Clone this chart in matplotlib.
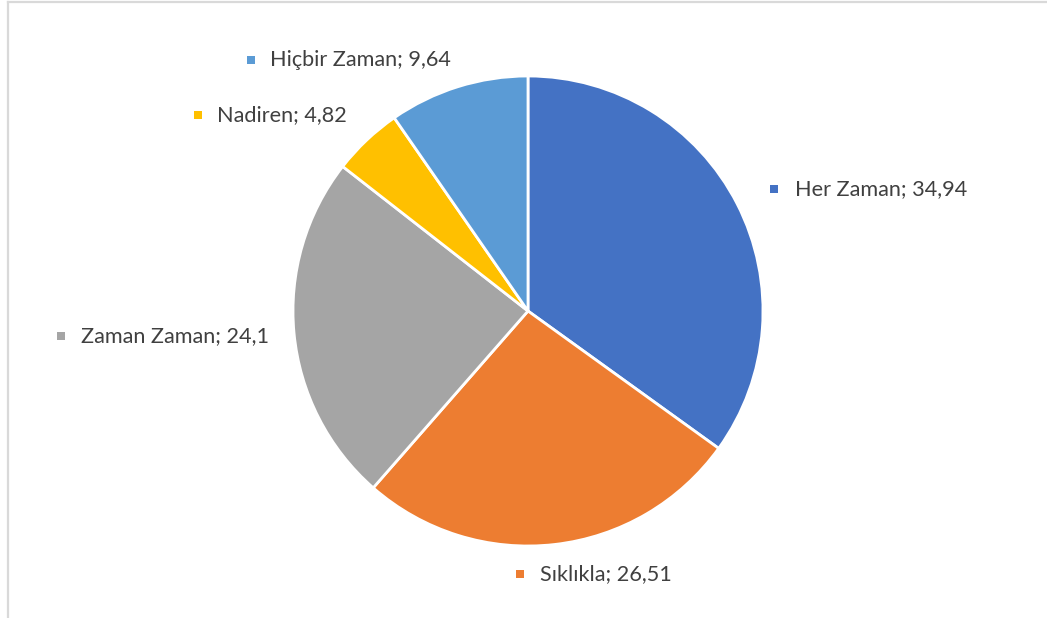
import matplotlib
matplotlib.use("Agg")
import matplotlib.pyplot as plt
from matplotlib.lines import Line2D
from matplotlib.patches import Rectangle

categories = ["Her Zaman", "Sıklıkla", "Zaman Zaman", "Nadiren", "Hiçbir Zaman"]
values = [34.94, 26.51, 24.1, 4.82, 9.64]
colors = ["#4472C4", "#ED7D31", "#A5A5A5", "#FFC000", "#5B9BD5"]

# label anchor positions (pixels: square centre x, centre y, text start x)
label_pos = {
    "Her Zaman": (774, 189, 795),
    "Sıklıkla": (520, 574, 540),
    "Zaman Zaman": (61, 336, 81),
    "Nadiren": (198, 115, 217),
    "Hiçbir Zaman": (251, 60, 270),
}

W, H = 1047, 618
fig = plt.figure(figsize=(W / 100, H / 100), dpi=100)
fig.patch.set_facecolor("white")

# chart frame (partially visible)
fig.add_artist(Line2D([7.5 / W, 7.5 / W], [0, 1 - 2 / H], transform=fig.transFigure,
                      color="#D9D9D9", lw=1.6))
fig.add_artist(Line2D([7.5 / W, 1], [1 - 2 / H, 1 - 2 / H], transform=fig.transFigure,
                      color="#D9D9D9", lw=1.6))

cx, cy, r = 528, 311, 235
ax = fig.add_axes([(cx - r) / W, (H - cy - r) / H, 2 * r / W, 2 * r / H])
ax.pie(values, colors=colors, startangle=90, counterclock=False, radius=1,
       wedgeprops=dict(edgecolor="white", linewidth=2))
ax.set_xlim(-1.0, 1.0)
ax.set_ylim(-1.0, 1.0)
ax.axis("off")

for cat, val, col in zip(categories, values, colors):
    sx, sy, tx = label_pos[cat]
    s = 8
    fig.add_artist(Rectangle(((sx - s / 2) / W, 1 - (sy + s / 2) / H), s / W, s / H,
                             transform=fig.transFigure, facecolor=col, edgecolor="none"))
    txt = f"{cat}; {str(val).replace('.', ',')}"
    fig.text(tx / W, 1 - (sy + 0.5) / H, txt, ha="left", va="center", fontsize=15.6,
             family="Lato", color="#404040")

fig.savefig("out.png", dpi=100, facecolor="white")
